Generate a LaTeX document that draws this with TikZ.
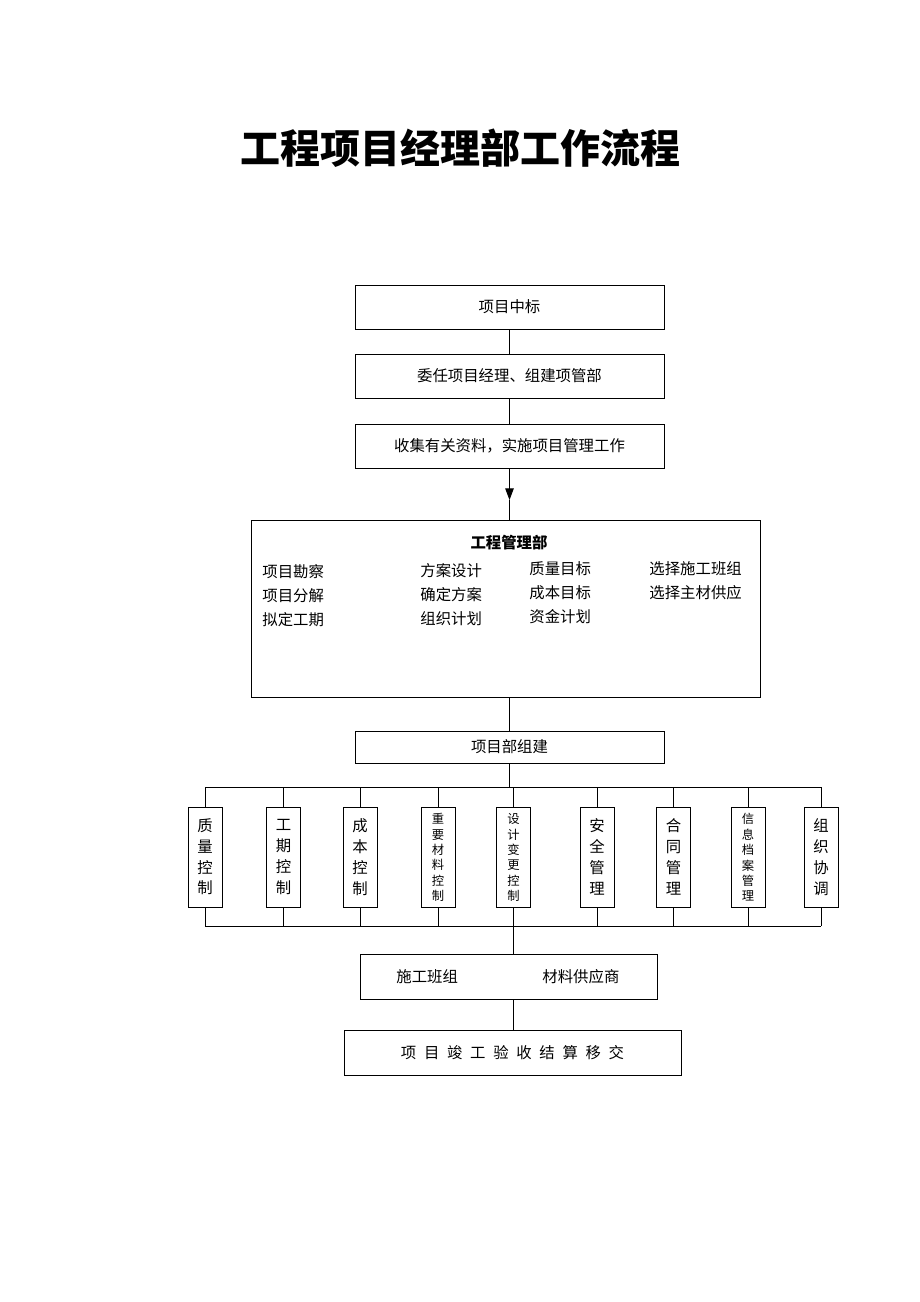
\documentclass[tikz,border=0pt]{standalone}
\usepackage{fontspec}
\setmainfont{Noto Sans CJK SC}
\usetikzlibrary{arrows.meta}

\begin{document}
\begin{tikzpicture}[x=0.65pt, y=-0.65pt, line width=0.6pt,
	box/.style={draw, inner sep=0pt, font=\fontsize{10}{12}\selectfont},
	vbox/.style={draw, inner sep=0pt, minimum width=22.1pt, minimum height=65pt, align=center},
	item/.style={anchor=west, inner sep=0pt, font=\fontsize{10}{12}\selectfont}]
	\useasboundingbox (0,0) rectangle (920,1302);

	\node (title) at (460,148) {\fontsize{26}{30}\selectfont\bfseries 工程项目经理部工作流程};

	\node[box, minimum width=200.9pt, minimum height=28.6pt] (zb) at (509.5,307) {项目中标};
	\node[box, minimum width=200.9pt, minimum height=28.6pt] (wr) at (509.5,376) {委任项目经理、组建项管部};
	\node[box, minimum width=200.9pt, minimum height=28.6pt] (sj) at (509.5,446) {收集有关资料，实施项目管理工作};
	\node[box, minimum width=330.9pt, minimum height=115pt] (gl) at (505.5,608.5) {};
	\node[box, minimum width=200.9pt, minimum height=20.8pt] (zj) at (509.5,747) {项目部组建};
	\node[box, minimum width=193pt, minimum height=29.3pt] (bz) at (508.5,976.5) {};
	\node[box, minimum width=219pt, minimum height=29.3pt] (jg) at (512.5,1052.5)
		{项\enspace 目\enspace 竣\enspace 工\enspace 验\enspace 收\enspace 结\enspace 算\enspace 移\enspace 交};

	% contents of the management box
	\node[item, anchor=center] (glt) at (509,543) {\bfseries 工程管理部};
	\foreach \n/\x/\y/\t in {a1/262/572/项目勘察, a2/262/596/项目分解, a3/262/620/拟定工期,
		b1/420/571/方案设计, b2/420/595/确定方案, b3/420/619/组织计划,
		c1/529/569/质量目标, c2/529/593/成本目标, c3/529/617/资金计划,
		d1/649/569/选择施工班组, d2/649/593/选择主材供应}
		\node[item] (\n) at (\x,\y) {\t};

	\node[item] (bz1) at (396,977) {施工班组};
	\node[item] (bz2) at (542,977) {材料供应商};

	% control boxes
	\foreach \n/\x/\t in {v1/205/质\\量\\控\\制, v2/283.5/工\\期\\控\\制, v3/360/成\\本\\控\\制,
		v6/597/安\\全\\管\\理, v7/673.5/合\\同\\管\\理, v9/821/组\\织\\协\\调}
		\node[vbox, font=\fontsize{10}{13.5}\selectfont] (\n) at (\x,857) {\t};
	\foreach \n/\x/\t in {v4/438/重\\要\\材\\料\\控\\制, v5/513.5/设\\计\\变\\更\\控\\制, v8/748/信\\息\\档\\案\\管\\理}
		\node[vbox, font=\fontsize{8}{10}\selectfont] (\n) at (\x,857.5) {\t};

	\coordinate (tip) at (509.5,500);
	\coordinate (tl) at (205,787);
	\coordinate (tr) at (821,787);
	\coordinate (bl) at (205,926);
	\coordinate (br) at (821,926);

	\draw (zb) -- (wr);
	\draw (wr) -- (sj);
	\draw[-{Triangle[width=5.5pt,length=7.5pt]}] (sj) -- (tip);
	\draw (tip) -- (gl.north -| tip);
	\draw (gl.south -| zj) -- (zj);
	\draw (zj) -- (zj |- tl);
	\draw (tl) -- (tr);
	\draw (bl) -- (br);
	\foreach \n in {v1,v2,v3,v4,v5,v6,v7,v8,v9} {
		\draw (\n) -- (\n |- tl);
		\draw (\n) -- (\n |- bl);
	}
	\draw (bl -| v5) -- (bz.north -| v5);
	\draw (bz.south -| v5) -- (jg.north -| v5);
\end{tikzpicture}
\end{document}
